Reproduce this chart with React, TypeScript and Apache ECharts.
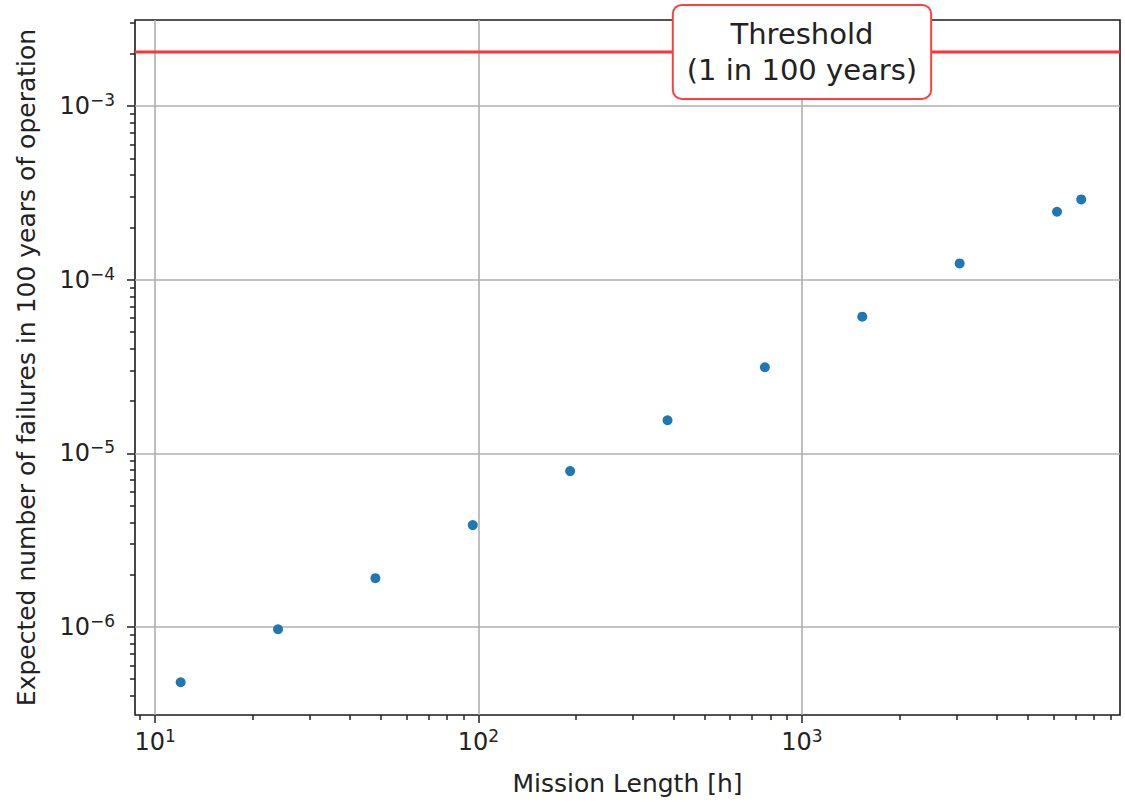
import React, { useEffect, useRef } from 'react';
import * as echarts from 'echarts';

// ---- data ----
const missionLength = [12, 24, 48, 96, 192, 384, 768, 1536, 3072, 6144, 7300];
const expectedFailures = [4.8e-7, 9.7e-7, 1.91e-6, 3.86e-6, 7.9e-6, 1.55e-5, 3.13e-5, 6.12e-5, 1.24e-4, 2.46e-4, 2.9e-4];
const thresholdValue = 2.05e-3;
const thresholdText = 'Threshold\n(1 in 100 years)';
const thresholdLabelX = 1000;

const xRange = [8.67, 9620];
const yRange = [3.11e-7, 3.13e-3];
const xMajorTicks = [10, 100, 1000];
const xMinorTicks = [9, 20, 30, 40, 50, 60, 70, 80, 90, 200, 300, 400, 500, 600, 700, 800, 900, 2000, 3000, 4000, 5000, 6000, 7000, 8000, 9000];
const yMajorTicks = [1e-6, 1e-5, 1e-4, 1e-3];
const yMinorTicks = [
  4e-7, 5e-7, 6e-7, 7e-7, 8e-7, 9e-7,
  2e-6, 3e-6, 4e-6, 5e-6, 6e-6, 7e-6, 8e-6, 9e-6,
  2e-5, 3e-5, 4e-5, 5e-5, 6e-5, 7e-5, 8e-5, 9e-5,
  2e-4, 3e-4, 4e-4, 5e-4, 6e-4, 7e-4, 8e-4, 9e-4,
  2e-3, 3e-3,
];

const xTitle = 'Mission Length [h]';
const yTitle = 'Expected number of failures in 100 years of operation';

const FONT = 'DejaVu Sans';
const TEXT = '#222222';

function powLabel(v: number): string {
  const e = Math.round(Math.log10(v));
  const s = e < 0 ? '\u2212' + String(-e) : String(e);
  return '{b|10}{s|' + s + '}';
}

const rich = {
  b: { fontSize: 24, fontFamily: FONT, color: TEXT },
  s: { fontSize: 17, fontFamily: FONT, color: TEXT, padding: [0, 0, 12, 0] },
};

export default function App() {
  const ref = useRef<HTMLDivElement>(null);

  useEffect(() => {
    if (!ref.current) return;
    const chart = echarts.init(ref.current, null, { renderer: 'svg' });

    const tickLine = { color: TEXT, width: 1.5 };

    chart.setOption({
      animation: false,
      backgroundColor: '#ffffff',
      grid: {
        left: 135,
        right: 5,
        top: 20,
        bottom: 88,
        show: true,
        borderColor: '#1a1a1a',
        borderWidth: 1.6,
        backgroundColor: 'transparent',
      },
      xAxis: [
        {
          type: 'log',
          logBase: 10,
          min: xRange[0],
          max: xRange[1],
          position: 'bottom',
          name: xTitle,
          nameLocation: 'middle',
          nameGap: 56,
          nameTextStyle: { fontSize: 25, fontFamily: FONT, color: TEXT },
          axisLine: { show: false, onZero: false },
          axisTick: { show: true, customValues: xMajorTicks, length: 8, lineStyle: tickLine },
          axisLabel: {
            show: true,
            customValues: xMajorTicks,
            margin: 12,
            formatter: powLabel,
            rich,
          },
          splitLine: { show: true, lineStyle: { color: '#b0b0b0', width: 1.6 } },
          minorTick: { show: false },
        },
        {
          type: 'log',
          logBase: 10,
          min: xRange[0],
          max: xRange[1],
          position: 'bottom',
          axisLine: { show: false, onZero: false },
          axisTick: { show: true, customValues: xMinorTicks, length: 5, lineStyle: tickLine },
          axisLabel: { show: false },
          splitLine: { show: false },
        },
      ],
      yAxis: [
        {
          type: 'log',
          logBase: 10,
          min: yRange[0],
          max: yRange[1],
          position: 'left',
          name: yTitle,
          nameLocation: 'middle',
          nameGap: 96,
          nameTextStyle: { fontSize: 25, fontFamily: FONT, color: TEXT },
          axisLine: { show: false, onZero: false },
          axisTick: { show: true, customValues: yMajorTicks, length: 8, lineStyle: tickLine },
          axisLabel: {
            show: true,
            customValues: yMajorTicks,
            margin: 20,
            formatter: powLabel,
            rich,
          },
          splitLine: { show: true, lineStyle: { color: '#b0b0b0', width: 1.6 } },
        },
        {
          type: 'log',
          logBase: 10,
          min: yRange[0],
          max: yRange[1],
          position: 'left',
          axisLine: { show: false, onZero: false },
          axisTick: { show: true, customValues: yMinorTicks, length: 5, lineStyle: tickLine },
          axisLabel: { show: false },
          splitLine: { show: false },
        },
      ],
      series: [
        {
          type: 'line',
          xAxisIndex: 0,
          yAxisIndex: 0,
          silent: true,
          symbol: 'none',
          z: 3,
          lineStyle: { color: '#ff3333', width: 3, type: 'solid' },
          data: [
            [xRange[0], thresholdValue],
            [xRange[1], thresholdValue],
          ],
          markPoint: {
            silent: true,
            z: 10,
            symbol: 'circle',
            symbolSize: 1,
            itemStyle: { color: 'rgba(0,0,0,0)' },
            label: {
              show: true,
              position: 'inside',
              formatter: thresholdText,
              fontSize: 29,
              lineHeight: 36,
              fontFamily: FONT,
              color: TEXT,
              align: 'center',
              backgroundColor: '#ffffff',
              borderColor: '#ff4040',
              borderWidth: 2,
              borderRadius: 8,
              padding: [10, 13, 10, 13],
            },
            data: [{ coord: [thresholdLabelX, thresholdValue] }],
          },
        },
        {
          type: 'scatter',
          xAxisIndex: 0,
          yAxisIndex: 0,
          symbol: 'circle',
          symbolSize: 10,
          z: 4,
          itemStyle: { color: '#1f77b4', opacity: 1 },
          data: missionLength.map((x, i) => [x, expectedFailures[i]]),
          silent: true,
        },
      ],
    });

    return () => {
      chart.dispose();
    };
  }, []);

  return (
    <div
      ref={ref}
      style={{ position: 'absolute', left: 0, top: 0, width: 1125, height: 803, background: '#fff' }}
    />
  );
}
